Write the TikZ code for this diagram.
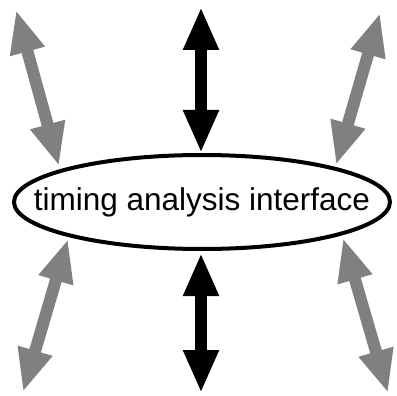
\documentclass[tikz,border=0pt]{standalone}
\usepackage{fontspec}
\setmainfont{Liberation Sans}
\usetikzlibrary{arrows.meta,shapes.geometric}
\tikzset{
  dblarrow/.style={line width=12pt, {Triangle[length=43pt,width=33pt]}-{Triangle[length=43pt,width=33pt]}},
  blackarrow/.style={dblarrow, draw=black},
  grayarrow/.style={dblarrow, draw=gray50},
  iface/.style={draw=black, line width=4pt, ellipse, minimum width=376pt, minimum height=94pt, inner sep=0pt},
  label/.style={inner sep=0pt, font=\fontsize{31.5}{36}\selectfont}
}
\definecolor{gray50}{HTML}{808080}
\begin{document}
\begin{tikzpicture}[x=1pt,y=-1pt]
\useasboundingbox (0,0) rectangle (397,396);
\node[iface] (e) at (202,202) {};
\node[label] (t) at (202,202) {timing analysis interface};
% coordinates for arrow ends
\coordinate (tt) at (201,7);
\coordinate (tb) at (201,153);
\coordinate (bt) at (201,253);
\coordinate (bb) at (201,393);
\coordinate (tl1) at (16,10);
\coordinate (tl2) at (59,166);
\coordinate (tr1) at (380,13);
\coordinate (tr2) at (336,165);
\coordinate (bl1) at (68,239);
\coordinate (bl2) at (23,392);
\coordinate (br1) at (343,238);
\coordinate (br2) at (388,393);
\draw[blackarrow] (tt) -- (tb);
\draw[blackarrow] (bt) -- (bb);
\draw[grayarrow] (tl1) -- (tl2);
\draw[grayarrow] (tr1) -- (tr2);
\draw[grayarrow] (bl1) -- (bl2);
\draw[grayarrow] (br1) -- (br2);
\end{tikzpicture}
\end{document}
